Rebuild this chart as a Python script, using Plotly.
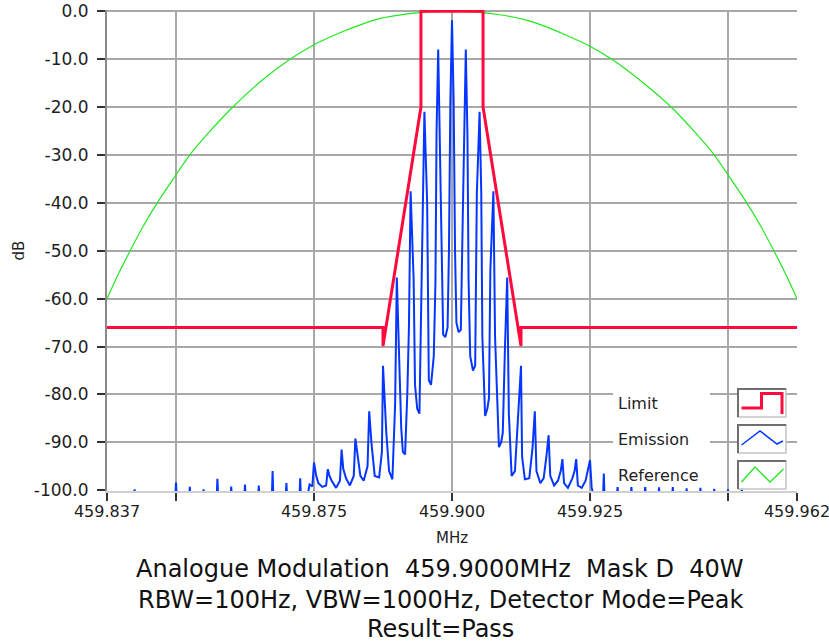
import plotly.graph_objects as go

# ---------------- data ----------------
center_mhz = 459.9

# Limit mask (offset in kHz from carrier, level in dB)
limit_khz = [-62.5, -12.5, -12.5, -5.625, -5.625, 5.625, 5.625, 12.5, 12.5, 62.5]
limit_db = [-66, -66, -69.9, -20, 0, 0, -20, -69.9, -66, -66]

# Reference curve
ref_khz = [-62.5, -60.5, -58.3, -56.0, -53.4, -50.5, -47.5, -43.8, -39.7, -35.0,
           -29.3, -25.0, -20.3, -16.5, -13.0, -9.0, -4.5, 0.0,
           4.5, 9.0, 13.0, 16.5, 20.3, 25.0, 29.3, 35.0, 39.7, 43.8,
           47.5, 50.5, 53.4, 56.0, 58.3, 60.5, 62.5]
ref_db = [-60, -55, -50, -45, -40, -35, -30, -25, -20, -15,
          -10, -7, -4.5, -2.8, -1.5, -0.7, -0.2, 0.0,
          -0.2, -0.8, -1.7, -3.0, -4.8, -7.3, -10.3, -15.3, -20, -25,
          -30, -35, -40, -45, -50, -55, -60]

# Emission, central part of the spectrum
emis_khz = [-26.3, -25.8, -25.3, -25.0, -24.6, -24.2, -23.5, -22.8, -22.5, -22.2,
            -21.8, -21.0, -20.3, -20.0, -19.7, -19.2, -18.5, -17.8, -17.5, -17.1,
            -16.6, -16.0, -15.3, -15.0, -14.6, -14.0, -13.2, -12.7, -12.5, -11.9,
            -11.4, -10.8, -10.3, -10.0, -9.6, -9.2, -8.9, -8.5, -8.1, -7.8,
            -7.5, -6.95, -6.7, -6.3, -5.9, -5.5, -5.3, -5.0, -4.5, -4.2,
            -3.8, -3.3, -3.0, -2.8, -2.5, -1.95, -1.6, -1.2, -0.8, -0.55,
            -0.3, 0.0, 0.3, 0.55, 0.8, 1.2, 1.6, 1.95, 2.5, 2.8,
            3.0, 3.3, 3.8, 4.2, 4.5, 5.0, 5.3, 5.5, 6.0, 6.4,
            6.7, 6.95, 7.5, 7.8, 8.1, 8.5, 8.9, 9.2, 9.6, 10.0,
            10.3, 10.8, 11.4, 11.9, 12.5, 12.7, 13.2, 14.0, 14.6, 15.0,
            15.3, 16.0, 16.6, 17.1, 17.5, 17.8, 18.5, 19.2, 19.7, 20.0,
            20.3, 21.0, 21.8, 22.2, 22.5, 22.8, 23.5, 24.2, 24.6, 25.0,
            25.3, 25.8]
emis_db = [-102, -98.8, -99.2, -94.2, -97.0, -98.5, -99.3, -99.0, -95.6, -97.0,
           -98.0, -99.5, -98.0, -91.5, -95.5, -97.5, -99.0, -97.0, -89.2, -93.0,
           -97.0, -98.0, -95.0, -83.5, -90.0, -97.0, -97.3, -92.0, -74.0, -88.0,
           -96.0, -97.7, -82.0, -55.6, -72.0, -87.0, -92.0, -92.5, -80.0, -66.0,
           -37.6, -56.0, -78.0, -83.0, -84.0, -58.0, -40.0, -21.0, -40.0, -77.0,
           -78.0, -72.0, -56.7, -25.4, -8.0, -45.0, -67.5, -68.0, -66.0, -50.0,
           -19.0, -1.9, -19.0, -50.0, -65.0, -67.0, -66.5, -43.0, -8.0, -26.0,
           -56.0, -72.0, -75.0, -74.0, -38.0, -21.0, -38.0, -68.0, -84.5, -83.0,
           -80.7, -54.0, -37.6, -68.0, -80.0, -91.0, -90.0, -88.0, -70.0, -55.6,
           -84.0, -97.0, -96.0, -86.0, -74.0, -93.0, -97.7, -97.5, -91.0, -83.5,
           -96.0, -98.5, -97.5, -93.0, -88.5, -97.0, -99.0, -98.0, -96.0, -93.5,
           -98.5, -99.5, -97.5, -96.0, -93.5, -99.0, -99.5, -98.0, -96.0, -93.7,
           -99.4, -102]

# Emission, isolated spectral lines far from the carrier
far_left_khz = [-57.5, -50.0, -47.5, -45.0, -42.5, -40.0, -37.5, -35.0, -32.5, -30.0, -27.5]
far_left_db = [-99.8, -98.4, -99.3, -99.8, -97.6, -99.2, -98.8, -99.0, -96.0, -98.5, -97.5]
far_right_khz = [27.5, 30.0, 32.5, 35.0, 37.5, 40.0, 42.5, 45.0, 47.5, 50.0, 52.5]
far_right_db = [-96.5, -99.0, -99.3, -99.1, -99.4, -99.2, -99.6, -99.5, -99.7, -99.8, -99.8]
noise_floor_db = -102
span_khz = 62.5
line_halfwidth_khz = 0.15

y_ticks = [0, -10, -20, -30, -40, -50, -60, -70, -80, -90, -100]
y_ticktext = ["0.0", "-10.0", "-20.0", "-30.0", "-40.0", "-50.0", "-60.0",
              "-70.0", "-80.0", "-90.0", "-100.0"]
x_ticks = [459.8375, 459.85, 459.875, 459.9, 459.925, 459.95, 459.9625]
x_ticktext = ["459.837", "", "459.875", "459.900", "459.925", "", "459.962"]

title_lines = ["Analogue Modulation  459.9000MHz  Mask D  40W",
               "RBW=100Hz, VBW=1000Hz, Detector Mode=Peak",
               "Result=Pass"]
legend_names = ["Limit", "Emission", "Reference"]

RED = "#ff0a3c"
BLUE = "#0536ff"
GREEN = "#22e622"

# ---------------- build emission polyline ----------------
def spikes(offs, peaks):
    xs, ys = [], []
    for f, p in zip(offs, peaks):
        xs += [f - line_halfwidth_khz, f, f + line_halfwidth_khz]
        ys += [noise_floor_db, p, noise_floor_db]
    return xs, ys

lx, ly = spikes(far_left_khz, far_left_db)
rx, ry = spikes(far_right_khz, far_right_db)
em_k = [-span_khz] + lx + emis_khz + rx + [span_khz]
em_d = [noise_floor_db] + ly + emis_db + ry + [noise_floor_db]

to_mhz = lambda ks: [center_mhz + k / 1000.0 for k in ks]

fig = go.Figure()
fig.add_trace(go.Scatter(x=to_mhz(ref_khz), y=ref_db, mode="lines",
                         line=dict(color=GREEN, width=1.2, shape="spline", smoothing=0.6),
                         name="Reference"))
fig.add_trace(go.Scatter(x=to_mhz(limit_khz), y=limit_db, mode="lines",
                         line=dict(color=RED, width=3), name="Limit"))
fig.add_trace(go.Scatter(x=to_mhz(em_k), y=em_d, mode="lines",
                         line=dict(color=BLUE, width=2.0), name="Emission"))

# ---------------- layout ----------------
L, R, T, B = 107, 32, 10, 152
W, H = 829, 643
PW, PH = W - L - R, H - T - B

def px(x):
    return (x - L) / PW

def py(y):
    return (T + PH - y) / PH

shapes = []
annotations = []

# custom legend (text on the left, icon box on the right)
rows_y = [(389, 417), (425, 453), (461, 489)]
for name, (y0, y1) in zip(legend_names, rows_y):
    shapes.append(dict(type="rect", xref="paper", yref="paper",
                       x0=px(613), x1=px(710), y0=py(min(y1, 487)), y1=py(y0),
                       fillcolor="white", line=dict(width=0), layer="above"))
    shapes.append(dict(type="rect", xref="paper", yref="paper",
                       x0=px(738), x1=px(786), y0=py(y1), y1=py(y0),
                       fillcolor="white", line=dict(color="#c4c4c4", width=1.5),
                       layer="above"))
    shapes.append(dict(type="path", xref="paper", yref="paper",
                       path=f"M {px(738)} {py(y1)} L {px(738)} {py(y0)} L {px(786)} {py(y0)}",
                       line=dict(color="#6e6e6e", width=2), layer="above"))
    annotations.append(dict(text=name, xref="paper", yref="paper",
                            x=px(616), y=py((y0 + y1) / 2 + 0.5), xanchor="left",
                            yanchor="middle", showarrow=False,
                            font=dict(size=16, color="#1e1e1e")))

def path(pts):
    return "M " + " L ".join(f"{px(a)} {py(b)}" for a, b in pts)

shapes.append(dict(type="path", xref="paper", yref="paper",
                   path=path([(741.5, 408), (761.5, 408), (761.5, 393.5), (782, 393.5), (782, 414)]),
                   line=dict(color=RED, width=3), layer="above"))
shapes.append(dict(type="path", xref="paper", yref="paper",
                   path=path([(741.5, 445), (760, 431), (777, 444), (783, 441)]),
                   line=dict(color=BLUE, width=1.5), layer="above"))
shapes.append(dict(type="path", xref="paper", yref="paper",
                   path=path([(741.5, 482), (755, 467), (770, 482), (783.5, 469)]),
                   line=dict(color=GREEN, width=1.3), layer="above"))

for txt, yy in zip(title_lines, [569, 600, 629]):
    annotations.append(dict(text=txt, xref="paper", yref="paper", x=px(440), y=py(yy),
                            xanchor="center", yanchor="middle", showarrow=False,
                            font=dict(size=24, color="#111111")))

fig.update_layout(
    width=W, height=H,
    margin=dict(l=L, r=R, t=T, b=B, pad=0, autoexpand=False),
    paper_bgcolor="white", plot_bgcolor="white",
    showlegend=False,
    font=dict(family="DejaVu Sans", color="#1e1e1e"),
    shapes=shapes, annotations=annotations,
)
fig.update_xaxes(range=[459.8375, 459.9625], tickvals=x_ticks, ticktext=x_ticktext,
                 automargin=False, ticklabeloverflow="allow",
                 showgrid=True, gridcolor="#a8a8a8", gridwidth=1.6,
                 ticks="outside", ticklen=8, tickwidth=1.5, tickcolor="#333333",
                 tickfont=dict(size=16), showline=True, linecolor="#d0d0d0", linewidth=1.5,
                 zeroline=False, ticklabelstandoff=-3,
                 title=dict(text="MHz", font=dict(size=15), standoff=13))
fig.update_yaxes(range=[-100.15, 0.25], tickvals=y_ticks, ticktext=y_ticktext,
                 automargin=False, ticklabeloverflow="allow",
                 showgrid=True, gridcolor="#a8a8a8", gridwidth=1.6,
                 ticks="outside", ticklen=8, tickwidth=1.5, tickcolor="#333333",
                 tickfont=dict(size=17), showline=True, linecolor="#8a8a8a", linewidth=2,
                 zeroline=False, ticklabelstandoff=5,
                 title=dict(text="dB", font=dict(size=15), standoff=6))

fig.write_html("out.html")
